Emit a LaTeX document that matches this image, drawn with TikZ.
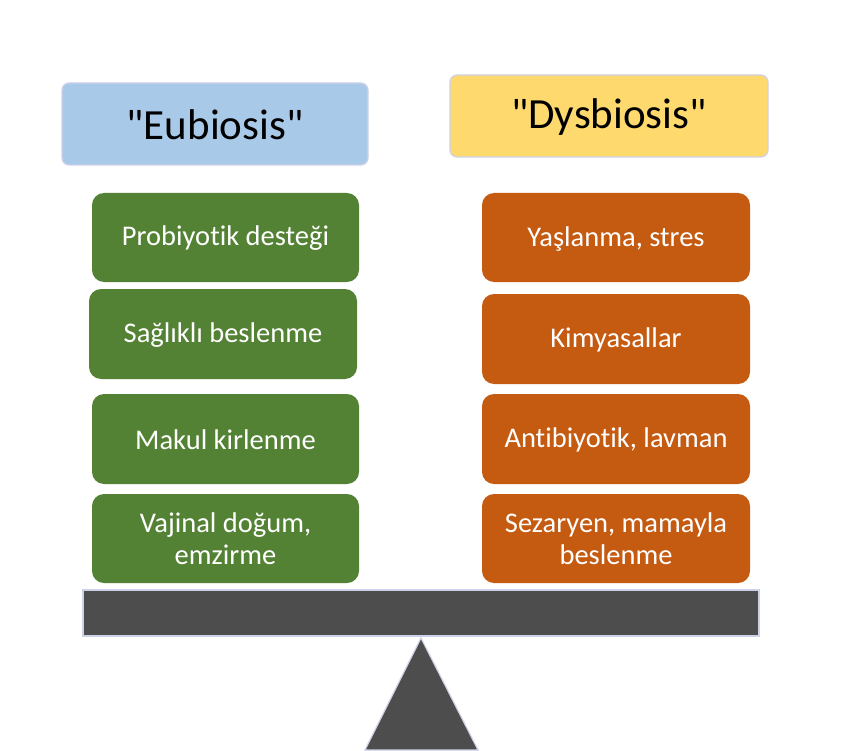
\documentclass[tikz,border=0pt]{standalone}
\usepackage{fontspec}
\setmainfont{Carlito}[Ligatures={TeXOff,NoCommon}]
\definecolor{eublue}{HTML}{A9C9E8}
\definecolor{dysyellow}{HTML}{FED96E}
\definecolor{edge}{HTML}{CDD2E8}
\definecolor{goodgreen}{HTML}{548235}
\definecolor{badorange}{HTML}{C55A11}
\definecolor{beam}{HTML}{4D4D4D}
\begin{document}
\begin{tikzpicture}[x=1pt,y=-1pt,
  header/.style={draw=edge, line width=1.2pt, rounded corners=7pt},
  headtext/.style={text=black, font=\fontsize{43}{46}\selectfont},
  goodbox/.style={fill=goodgreen, rounded corners=12pt},
  badbox/.style={fill=badorange, rounded corners=12pt},
  boxtext/.style={text=white, font=\fontsize{28.5}{32}\selectfont, align=center},
  beamstyle/.style={fill=beam, draw=edge, line width=1.2pt}]
\useasboundingbox (0,0) rectangle (842,751);
% headers
\draw[header, fill=eublue] (62,83) rectangle (368,165);
\node[headtext] (eu) at (215,125) {"Eubiosis"};
\draw[header, fill=dysyellow] (450,75) rectangle (768,157);
\node[headtext] (dys) at (609,117) {"Dysbiosis"};
% green boxes
\path[goodbox] (92,193) rectangle (359,282);
\node[boxtext] (g1) at (225.5,238.5) {Probiyotik desteği};
\path[goodbox] (89,289) rectangle (357,379);
\node[boxtext] (g2) at (223,335) {Sağlıklı beslenme};
\path[goodbox] (92,394) rectangle (359,484);
\node[boxtext] (g3) at (225.5,440) {Makul kirlenme};
\path[goodbox] (92,494) rectangle (359,583);
\node[boxtext] (g4) at (225.5,539) {Vajinal doğum,\\emzirme};
% orange boxes
\path[badbox] (482,193) rectangle (750,282);
\node[boxtext] (b1) at (616,238.5) {Yaşlanma, stres};
\path[badbox] (482,294) rectangle (750,384);
\node[boxtext] (b2) at (616,340) {Kimyasallar};
\path[badbox] (482,394) rectangle (750,484);
\node[boxtext] (b3) at (616,440) {Antibiyotik, lavman};
\path[badbox] (482,494) rectangle (750,583);
\node[boxtext] (b4) at (616,539) {Sezaryen, mamayla\\beslenme};
% beam and fulcrum
\draw[beamstyle] (83,590) rectangle (759,636);
\draw[beamstyle] (421,638) -- (478,750) -- (365,750) -- cycle;
\end{tikzpicture}
\end{document}
